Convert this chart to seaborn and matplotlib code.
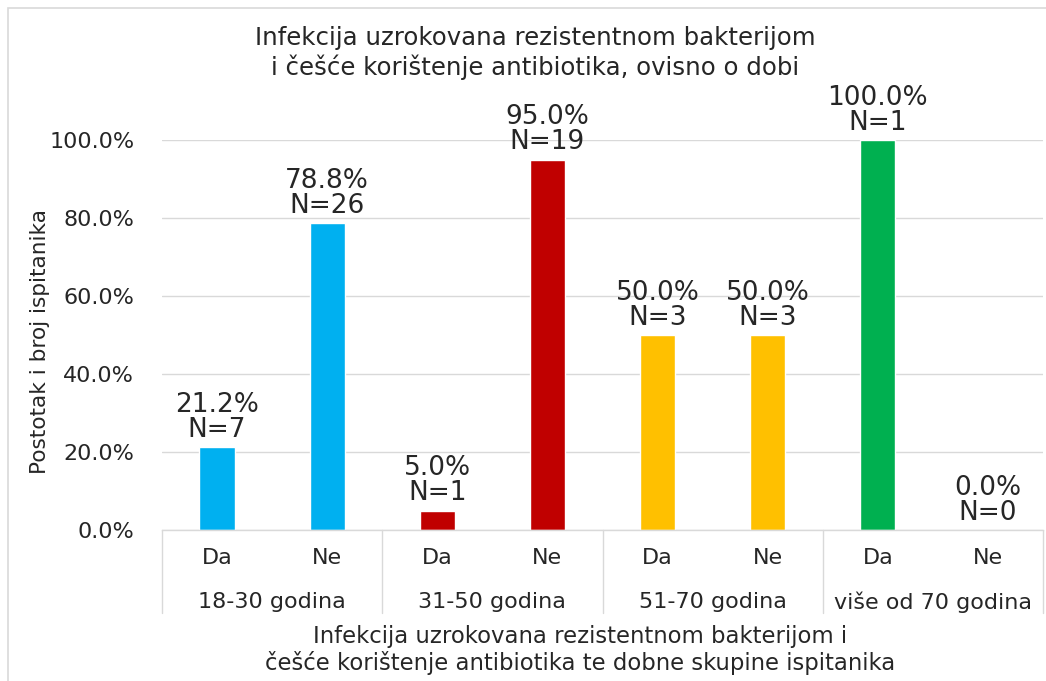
import matplotlib
matplotlib.use("Agg")
import matplotlib.pyplot as plt
import matplotlib.transforms as mtransforms
from matplotlib.patches import Rectangle
import seaborn as sns
import pandas as pd

# Data
groups = ["18-30 godina", "31-50 godina", "51-70 godina", "više od 70 godina"]
answers = ["Da", "Ne"]
percent = [21.2, 78.8, 5.0, 95.0, 50.0, 50.0, 100.0, 0.0]
counts = [7, 26, 1, 19, 3, 3, 1, 0]
group_colors = ["#00B0F0", "#C00000", "#FFC000", "#00B050"]

title = "Infekcija uzrokovana rezistentnom bakterijom\ni češće korištenje antibiotika, ovisno o dobi"
xlabel = "Infekcija uzrokovana rezistentnom bakterijom i\nčešće korištenje antibiotika te dobne skupine ispitanika"
ylabel = "Postotak i broj ispitanika"

rows = []
for gi, g in enumerate(groups):
    for ai, a in enumerate(answers):
        k = gi * 2 + ai
        rows.append({"key": f"{g}|{a}", "group": g, "answer": a,
                     "value": percent[k] / 100.0, "n": counts[k]})
df = pd.DataFrame(rows)
order = list(df["key"])
palette = {r["key"]: group_colors[groups.index(r["group"])] for r in rows}

sns.set_theme(style="white")
plt.rcParams["font.family"] = ["DejaVu Sans"]
text_color = "#262626"
grid_color = "#D9D9D9"

fig = plt.figure(figsize=(10.46, 6.81), dpi=100)
W, H = 1046, 681
ax = fig.add_axes([162 / W, 1 - 530 / H, (1043 - 162) / W, (530 - 140) / H])

sns.barplot(data=df, x="key", y="value", hue="key", order=order, hue_order=order,
            palette=palette, width=0.32, legend=False, ax=ax, saturation=1)

ax.set_ylim(0, 1.0)
ax.set_xlim(-0.5, len(order) - 0.5)
ax.set_yticks([0, 0.2, 0.4, 0.6, 0.8, 1.0])
ax.set_yticklabels([f"{v:.1f}%" for v in [0, 20, 40, 60, 80, 100]],
                   fontsize=16, color=text_color)
ax.tick_params(axis="y", length=0, pad=20)
ax.yaxis.grid(True, color=grid_color, linewidth=1)
ax.set_axisbelow(True)
for side in ["top", "right", "left"]:
    ax.spines[side].set_visible(False)
ax.spines["bottom"].set_color(grid_color)
ax.spines["bottom"].set_linewidth(1)

# Inner category labels (Da / Ne)
ax.set_xticks(range(len(order)))
ax.set_xticklabels(list(df["answer"]), fontsize=16, color=text_color)
ax.tick_params(axis="x", length=0, pad=13)
ax.set_xlabel("")
ax.set_ylabel("")

# Outer group labels and separators
trans = mtransforms.blended_transform_factory(ax.transData, ax.transAxes)
sep_bottom = -(613 - 530) / (530 - 140)
for gi, g in enumerate(groups):
    ax.text(gi * 2 + 0.5, -(602 - 530) / (530 - 140), g, transform=trans,
            ha="center", va="center", fontsize=16, color=text_color)
for b in range(len(groups) + 1):
    ax.plot([b * 2 - 0.5, b * 2 - 0.5], [0, sep_bottom], transform=trans,
            color=grid_color, linewidth=1, clip_on=False)

# Value labels
for i, r in df.iterrows():
    ax.annotate(f"{r['value'] * 100:.1f}%\nN={r['n']}", (i, r["value"]),
                xytext=(0, 3), textcoords="offset points", ha="center", va="bottom",
                fontsize=19, color=text_color, linespacing=0.95, annotation_clip=False)

fig.text(580 / W, 1 - 650 / H, xlabel, ha="center", va="center",
         fontsize=16.4, color=text_color, linespacing=1.2)
fig.text(40 / W, 1 - 342 / H, ylabel, ha="center", va="center",
         rotation=90, fontsize=15.6, color=text_color)
fig.text(535 / W, 1 - 53 / H, title, ha="center", va="center",
         fontsize=17.6, color=text_color, linespacing=1.2)

# Chart frame
fig.patches.append(Rectangle((8 / W, -0.05), 1.2, 1 - 8 / H + 0.05,
                             transform=fig.transFigure, fill=False,
                             edgecolor="#D9D9D9", linewidth=1.2))

fig.savefig("out.png", dpi=100, facecolor="white")
